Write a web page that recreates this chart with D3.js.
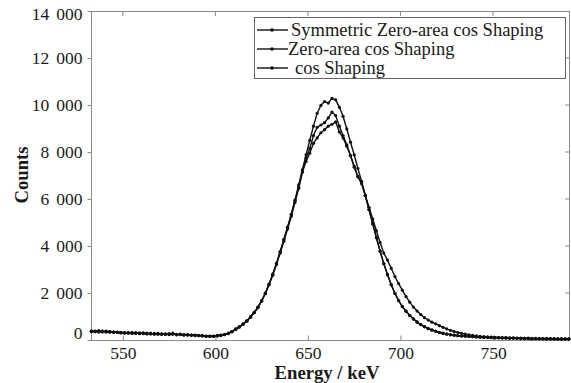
<!doctype html>
<html>
<head>
<meta charset="utf-8"/>
<script src="https://cdnjs.cloudflare.com/ajax/libs/d3/7.8.5/d3.min.js"></script>
<style>
  body { margin: 0; background: #fff; }
  svg text { font-family: "Liberation Serif", "Times New Roman", serif !important; fill: #1a1a1a; }
  .frame { stroke: #8a8a8a; fill: none; }
  .curve { fill: none; stroke: #111; stroke-width: 1.4px; }
  .dot { fill: #111; }
</style>
</head>
<body>
<svg width="571" height="383"></svg>
<script>

var energy = [533,535,537,539,541,543,545,547,549,551,553,555,557,559,561,563,565,567,569,571,
  573,575,577,579,581,583,585,587,589,591,593,595,597,599,601,603,605,607,609,611,
  613,615,617,619,621,623,625,627,629,631,633,635,637,639,641,643,645,647,649,651,
  653,655,657,659,661,663,665,667,669,671,673,675,677,679,681,683,685,687,689,691,
  693,695,697,699,701,703,705,707,709,711,713,715,717,719,721,723,725,727,729,731,
  733,735,737,739,741,743,745,747,749,751,753,755,757,759,761,763,765,767,769,771,
  773,775,777,779,781,783,785,787,789,791];

var symZeroCos = [390,350,400,340,380,330,350,320,330,290,320,280,310,270,300,260,290,250,280,240,
  260,230,290,220,250,210,230,200,210,180,190,160,150,170,180,200,230,290,370,460,
  560,680,820,990,1180,1400,1680,2000,2380,2800,3260,3760,4280,4800,5350,5950,6600,7250,7880,8500,
  9100,9650,9980,10150,10080,10280,10220,9900,9520,8980,8420,7880,7300,6750,6150,5550,4950,4350,3780,3250,
  2780,2350,1980,1670,1420,1220,1040,890,760,650,560,480,420,370,320,280,250,220,200,180,
  170,160,150,140,130,120,110,110,100,90,100,80,90,70,80,70,60,70,60,50,
  60,50,60,40,50,40,50,40,50,40];

var zeroCos = [370,380,340,370,350,360,320,340,310,320,300,310,280,300,270,290,260,280,250,260,
  240,270,250,230,240,220,220,210,200,190,170,170,160,150,190,210,240,280,360,470,
  570,690,810,980,1170,1390,1670,1990,2370,2790,3250,3750,4270,4790,5330,5920,6500,7150,7750,8150,
  8700,9050,9150,9250,9450,9700,9550,9100,8700,8300,7850,7400,6950,6700,6150,5550,4950,4350,3780,3250,
  2790,2360,1990,1680,1430,1230,1050,900,770,660,570,490,430,380,330,290,260,230,210,190,
  175,165,155,145,135,125,115,105,110,95,90,95,80,85,75,70,75,60,65,55,
  60,55,50,55,45,50,40,45,40,45];

var cosShaping = [360,370,350,380,340,360,330,330,300,310,290,300,290,280,280,270,270,260,260,250,
  250,240,260,240,230,230,210,210,190,200,180,160,170,160,170,200,230,270,350,450,
  550,670,800,970,1160,1380,1650,1970,2350,2760,3210,3700,4200,4720,5260,5850,6450,7150,7600,7950,
  8370,8600,8820,8950,9100,9180,9280,8850,8600,8250,7850,7350,6950,6650,6150,5650,5150,4650,4150,3700,
  3400,3050,2700,2400,2120,1850,1610,1400,1230,1080,950,850,760,690,610,540,470,410,360,320,
  285,250,220,195,175,155,140,130,120,110,115,100,105,90,95,80,85,75,80,70,
  65,70,60,65,55,60,50,55,45,50];

var seriesNames = ["Symmetric Zero-area cos Shaping", "Zero-area cos Shaping", "cos  Shaping"];
var xTicks = [550, 600, 650, 700, 750];
var yTicks = [0, 2000, 4000, 6000, 8000, 10000, 12000, 14000];

(function(){
var svg = d3.select("svg");
var pLeft = 91, pRight = 570, pTop = 11, pBottom = 340;

var x = d3.scaleLinear().domain([532.8, 791.6]).range([pLeft, pRight]);
var y = d3.scaleLinear().domain([0, 14000]).range([pBottom, pTop]);

var fmt = function(v){ return d3.format(",")(v).replace(",", "\u2009\u2009"); };

// frame
svg.append("rect").attr("class", "frame")
  .attr("x", pLeft + 0.5).attr("y", pTop + 0.5)
  .attr("width", pRight - pLeft - 1).attr("height", pBottom - pTop);

// bottom axis: inward ticks
var gx = svg.append("g").attr("transform", "translate(0," + (pBottom + 0.5) + ")")
  .call(d3.axisBottom(x).tickValues(xTicks).tickSizeInner(-5).tickSizeOuter(0).tickPadding(6));
gx.attr("font-family", "Liberation Serif");
gx.select(".domain").remove();
gx.selectAll("line").attr("stroke", "#8a8a8a");
gx.selectAll("text").style("font-size", "17.5px").attr("fill", "#1a1a1a");

// top mirror ticks
svg.append("g").selectAll("line").data(xTicks).enter().append("line")
  .attr("x1", function(d){ return x(d); }).attr("x2", function(d){ return x(d); })
  .attr("y1", pTop).attr("y2", pTop + 5).attr("stroke", "#8a8a8a");

// left axis
var gy = svg.append("g").attr("transform", "translate(" + (pLeft + 0.5) + ",0)")
  .call(d3.axisLeft(y).tickValues(yTicks).tickSizeInner(4).tickSizeOuter(0).tickPadding(5).tickFormat(fmt));
gy.attr("font-family", "Liberation Serif");
gy.select(".domain").remove();
gy.selectAll("line").attr("stroke", "#8a8a8a");
gy.selectAll("text").style("font-size", "17.5px").attr("fill", "#1a1a1a");
gy.selectAll(".tick").filter(function(d){ return d === 0; }).select("text").attr("dy", "-0.1em");
gy.selectAll(".tick").filter(function(d){ return d === 14000; }).select("text").attr("dy", "0.5em");

// right mirror ticks
svg.append("g").selectAll("line").data(yTicks.slice(1, -1)).enter().append("line")
  .attr("x1", pRight - 5).attr("x2", pRight)
  .attr("y1", function(d){ return y(d); }).attr("y2", function(d){ return y(d); })
  .attr("stroke", "#8a8a8a");

// axis titles
svg.append("text").attr("x", 327).attr("y", 379).attr("text-anchor", "middle")
  .style("font-size", "18.7px").style("font-weight", "bold").text("Energy / keV");
svg.append("text").attr("transform", "translate(28,175) rotate(-90)").attr("text-anchor", "middle")
  .style("font-size", "18.7px").style("font-weight", "bold").text("Counts");

// curves
var allSeries = [symZeroCos, zeroCos, cosShaping];
var line = d3.line().x(function(d){ return x(d[0]); }).y(function(d){ return y(d[1]); });
var plot = svg.append("g");
allSeries.forEach(function(vals){
  var pts = energy.map(function(e, i){ return [e, vals[i]]; });
  plot.append("path").attr("class", "curve").attr("d", line(pts));
  plot.selectAll(null).data(pts).enter().append("circle").attr("class", "dot")
    .attr("cx", function(d){ return x(d[0]); }).attr("cy", function(d){ return y(d[1]); })
    .attr("r", 1.6);
});

// legend
var lg = svg.append("g");
lg.append("rect").attr("x", 254.5).attr("y", 17.5).attr("width", 311).attr("height", 61)
  .attr("fill", "#fff").attr("stroke", "#666");
var rows = [30, 49, 68], textX = [291, 288, 295];
seriesNames.forEach(function(name, i){
  lg.append("line").attr("x1", 257).attr("x2", 288).attr("y1", rows[i]).attr("y2", rows[i])
    .attr("stroke", "#111").attr("stroke-width", 1.4);
  lg.append("circle").attr("cx", 272).attr("cy", rows[i]).attr("r", 1.8).attr("fill", "#111");
  lg.append("text").attr("x", textX[i]).attr("y", rows[i] + 6).style("font-size", "18.5px").text(name);
});
})();

</script>
</body>
</html>
